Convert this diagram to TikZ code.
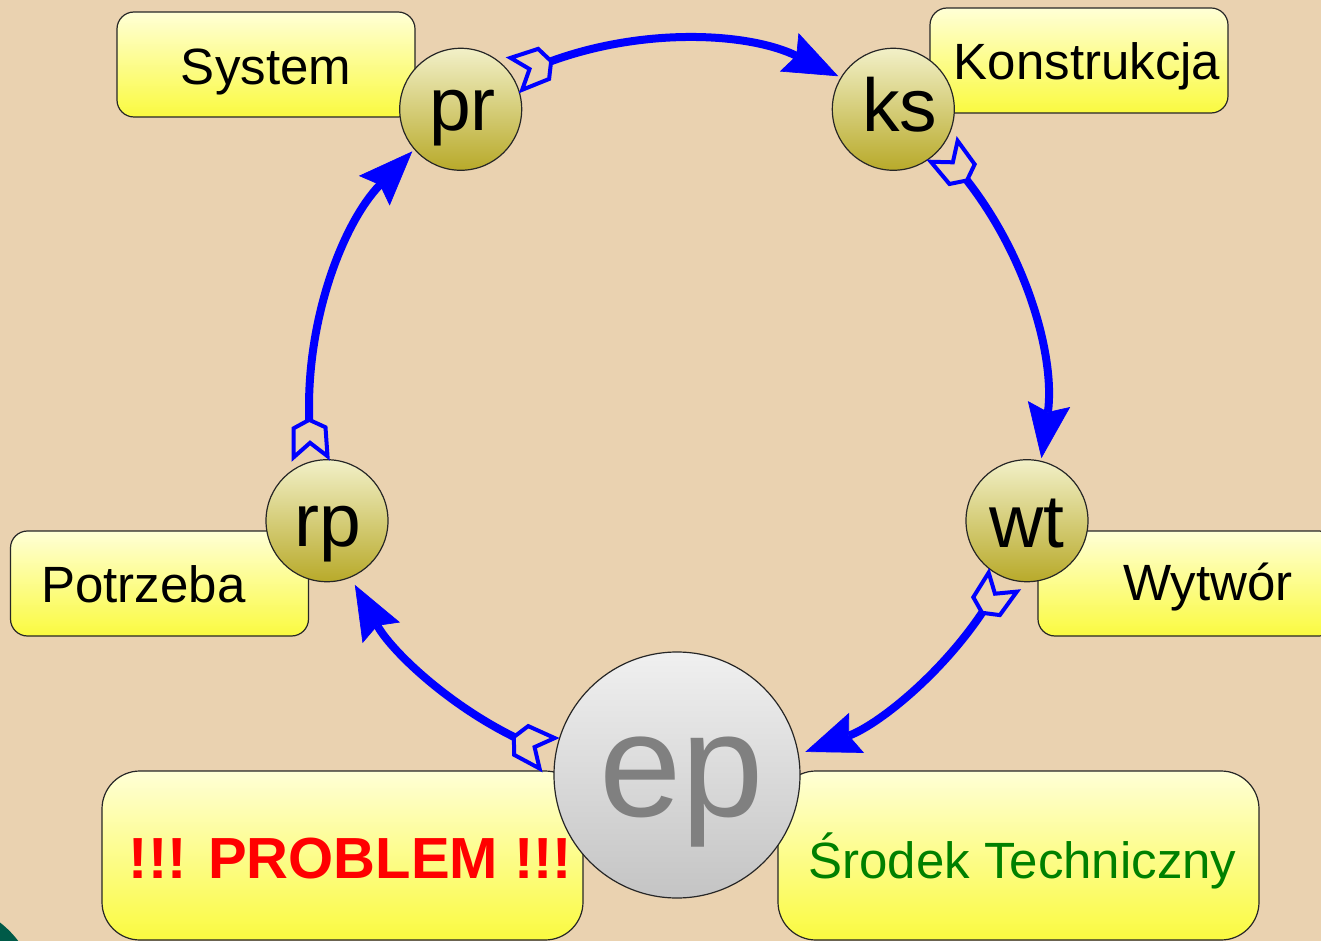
\documentclass[tikz,border=0pt]{standalone}
\usepackage{fontspec}
\setmainfont{Liberation Sans}
\usetikzlibrary{arrows.meta,decorations.markings}

\definecolor{paper}{RGB}{234,210,176}
\definecolor{pine}{RGB}{0,90,72}
\definecolor{boxtop}{RGB}{255,255,214}
\definecolor{boxbot}{RGB}{250,250,64}
\definecolor{olivetop}{RGB}{242,240,200}
\definecolor{olivebot}{RGB}{184,170,42}
\definecolor{greytop}{RGB}{240,240,240}
\definecolor{greybot}{RGB}{196,196,196}
\definecolor{inkgreen}{RGB}{0,128,0}

\tikzset{
  card/.style={draw=black!85, line width=0.9pt, rounded corners=12.75pt,
    top color=boxtop, bottom color=boxbot, inner sep=0pt,
    minimum width=223.5pt, minimum height=78.75pt},
  bigcard/.style={card, rounded corners=28.5pt,
    minimum width=360.75pt, minimum height=126.75pt},
  stage/.style={circle, draw=black!85, line width=0.9pt, inner sep=0pt,
    top color=olivetop, bottom color=olivebot, minimum size=91.5pt},
  core/.style={stage, top color=greytop, bottom color=greybot, minimum size=184.5pt},
  word/.style={anchor=base, inner sep=0pt, font=\fontsize{38.25pt}{42pt}\selectfont},
  tag/.style={anchor=base, inner sep=0pt, font=\fontsize{56.25pt}{60pt}\selectfont},
  flow/.style={draw=blue, line width=6pt,
    -{Stealth[length=41pt,width=32pt,inset=6pt,line width=0.5pt]},
    postaction={decorate},
    decoration={markings, mark=at position 0 with {
      \draw[blue, line width=3pt, line join=miter, -]
        (0pt,0pt) -- (-6pt,12pt) -- (-27.75pt,12.75pt) -- (-17.25pt,0pt)
        -- (-27.75pt,-12.75pt) -- (-6pt,-12pt) -- cycle;}}}
}

\begin{document}
\begin{tikzpicture}[x=0.75pt,y=0.75pt]
  \useasboundingbox (0,0) rectangle (1321,-941);
  \fill[paper] (0,0) rectangle (1321,-941);
  \fill[pine] (-60,-1000) circle[radius=98];

  % label cards
  \node[card] (sysbox) at (266,-64.5) {};
  \node[card] (konbox) at (1079,-60.5) {};
  \node[card] (potbox) at (159.5,-583.5) {};
  \node[card] (wytbox) at (1187,-583.5) {};
  \node[bigcard] (probox) at (342.5,-855.5) {};
  \node[bigcard] (srobox) at (1018.5,-855.5) {};

  \node[word] (systxt) at (266,-85) {System};
  \node[word] (kontxt) at (1087,-80) {Konstrukcja};
  \node[word] (pottxt) at (143.5,-602) {Potrzeba};
  \node[word] (wyttxt) at (1208,-600) {Wytwór};
  \node[word, text=red, font=\fontsize{43.5pt}{46pt}\selectfont\bfseries] (protxt) at (350.5,-878) {!!! PROBLEM !!!};
  \node[word, text=inkgreen] (srotxt) at (1022.5,-878) {Środek Techniczny};

  % ring of stages
  \coordinate (hub) at (677,-407);
  \node[stage] (pr) at ([shift={(126:368)}]hub) {};
  \node[stage] (ks) at ([shift={(54:368)}]hub) {};
  \node[stage] (wt) at ([shift={(-18:368)}]hub) {};
  \node[stage] (rp) at ([shift={(198:368)}]hub) {};
  \node[core]  (ep) at ([shift={(-90:368)}]hub) {};

  \node[tag] (prtxt) at (462.5,-131) {pr};
  \node[tag] (kstxt) at (899.5,-132) {ks};
  \node[tag] (wttxt) at (1026.5,-547) {wt};
  \node[tag] (rptxt) at (328,-546) {rp};
  \node[tag, text=black!50, font=\fontsize{111pt}{115pt}\selectfont] (eptxt) at (681.7,-816) {ep};

  % cycle arrows along the ring
  \draw[flow] ([shift={(110:368)}]hub) arc[start angle=110, end angle=64, radius=368];
  \draw[flow] ([shift={(38:368)}]hub) arc[start angle=38, end angle=-8, radius=368];
  \draw[flow] ([shift={(-34:368)}]hub) arc[start angle=-34, end angle=-69.6, radius=368];
  \draw[flow] ([shift={(243.7:368)}]hub) arc[start angle=243.7, end angle=208.9, radius=368];
  \draw[flow] ([shift={(182:368)}]hub) arc[start angle=182, end angle=136, radius=368];
\end{tikzpicture}
\end{document}
